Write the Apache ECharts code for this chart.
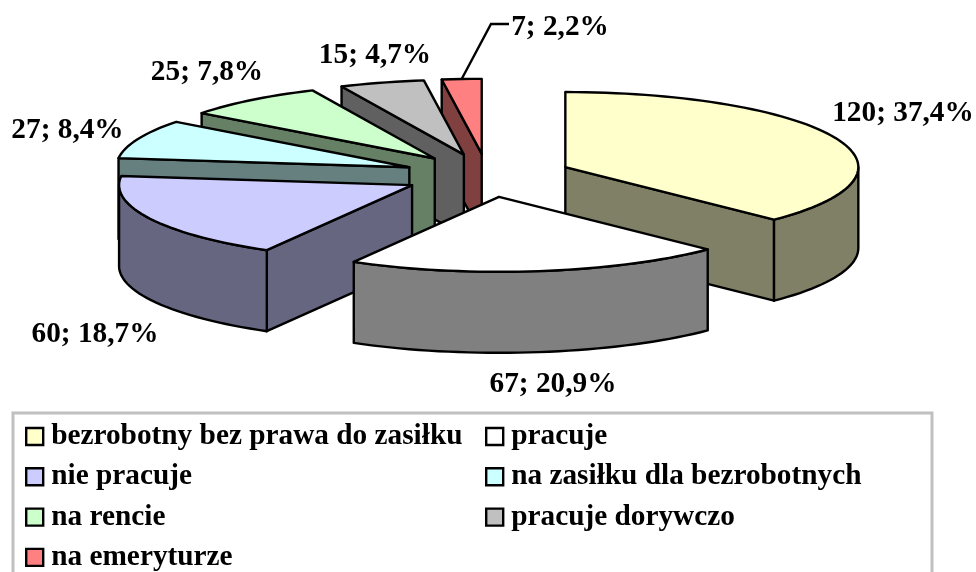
<!DOCTYPE html>
<html>
<head>
<meta charset="utf-8">
<style>
    html, body { margin: 0; padding: 0; background: #fff; }
    #chart { width: 976px; height: 572px; }
</style>
<script src="https://cdn.jsdelivr.net/npm/echarts@6/dist/echarts.min.js"></script>
</head>
<body>
<div id="chart"></div>
<script>
const categories = ['bezrobotny bez prawa do zasiłku', 'pracuje', 'nie pracuje', 'na zasiłku dla bezrobotnych', 'na rencie', 'pracuje dorywczo', 'na emeryturze']
const values = [120, 67, 60, 27, 25, 15, 7]
const topColors = ['#FFFFCC', '#FFFFFF', '#CCCCFF', '#CCFFFF', '#CCFFCC', '#C0C0C0', '#FF8080']
const wallColors = ['#808066', '#808080', '#666680', '#668080', '#668066', '#606060', '#804040']

// back to front, white slice sits on top of everything
const zBySlice = [6, 7, 5, 4, 3, 2, 1]

const pie = { cx: 487.5, cy: 175.4, rx: 293, ry: 75, depth: 81, explode: 0.288 }
const labelAt = [[903, 113], [553, 384], [95, 334], [67.5, 130], [207, 72], [375, 55], [560, 27]]
const serif = '"Liberation Serif", "Times New Roman", serif'

const total = values.reduce((a, b) => a + b, 0)
const rad = d => d * Math.PI / 180

function arc(ox, oy, from, to) {
    const pts = []
    const n = Math.max(2, Math.ceil((to - from) / 2))
    for (let i = 0; i <= n; i++) {
        const t = rad(from + (to - from) * i / n)
        pts.push([ox + pie.rx * Math.sin(t), oy - pie.ry * Math.cos(t)])
    }
    return pts
}

function sliceRender(idx) {
    return function (params, api) {
        const before = values.slice(0, idx).reduce((a, b) => a + b, 0)
        const a = before / total * 360
        const b = a + api.value(0) / total * 360
        const mid = rad((a + b) / 2)
        const ox = pie.cx + pie.explode * pie.rx * Math.sin(mid)
        const oy = pie.cy - pie.explode * pie.ry * Math.cos(mid)
        const d = pie.depth
        const line = { stroke: '#000', lineWidth: 2.4, lineJoin: 'round' }
        const children = []
        const down = p => [p[0], p[1] + d]
        const wall = pts => ({
            type: 'polygon',
            shape: { points: pts.concat(pts.slice().reverse().map(down)) },
            style: Object.assign({ fill: wallColors[idx] }, line)
        })
        const edge = arc(ox, oy, a, b)
        // side faces only show when they turn towards the viewer
        if (Math.sin(rad(a)) < -1e-6) children.push(wall([[ox, oy], edge[0]]))
        if (Math.sin(rad(b)) > 1e-6) children.push(wall([[ox, oy], edge[edge.length - 1]]))
        const f = Math.max(a, 90), t = Math.min(b, 270)
        if (t > f) children.push(wall(arc(ox, oy, f, t)))
        children.push({
            type: 'polygon',
            shape: { points: [[ox, oy]].concat(edge) },
            style: Object.assign({ fill: topColors[idx] }, line)
        })
        children.push({
            type: 'text',
            z2: 10,
            style: {
                text: api.value(0) + '; ' + (api.value(0) / total * 100).toFixed(1).replace('.', ',') + '%',
                x: labelAt[idx][0],
                y: labelAt[idx][1],
                align: 'center',
                verticalAlign: 'middle',
                font: 'bold 29.3px ' + serif,
                fill: '#000'
            }
        })
        // leader line for the smallest slice, its label sits too far away
        if (idx === values.length - 1) {
            const m = arc(ox, oy, (a + b) / 2, (a + b) / 2)[0]
            children.push({
                type: 'polyline',
                shape: { points: [m, [491, 24], [509, 24]] },
                style: { stroke: '#000', lineWidth: 2.4, fill: null }
            })
        }
        return { type: 'group', children: children }
    }
}

const legendBase = {
    orient: 'vertical',
    top: 417,
    height: 400,
    itemWidth: 17,
    itemHeight: 17,
    itemGap: 11.3,
    icon: 'rect',
    selectedMode: false,
    itemStyle: { borderColor: '#000', borderWidth: 2.4 },
    textStyle: { fontFamily: serif, fontWeight: 'bold', fontSize: 29.3, color: '#000', padding: [0, 0, 0, 3] }
}

const chart = echarts.init(document.getElementById('chart'), null, { renderer: 'canvas' })
chart.setOption({
    animation: false,
    backgroundColor: '#fff',
    legend: [
        Object.assign({ left: 20, data: categories.filter((c, i) => i % 2 === 0) }, legendBase),
        Object.assign({ left: 480, data: categories.filter((c, i) => i % 2 === 1) }, legendBase)
    ],
    graphic: [{
        type: 'rect',
        silent: true,
        shape: { x: 13, y: 413, width: 919, height: 170 },
        style: { fill: 'none', stroke: '#C0C0C0', lineWidth: 3 }
    }],
    series: values.map((v, i) => ({
        type: 'custom',
        name: categories[i],
        coordinateSystem: 'none',
        silent: true,
        z: zBySlice[i],
        itemStyle: { color: topColors[i] },
        data: [[v]],
        renderItem: sliceRender(i)
    }))
})
</script>
</body>
</html>
